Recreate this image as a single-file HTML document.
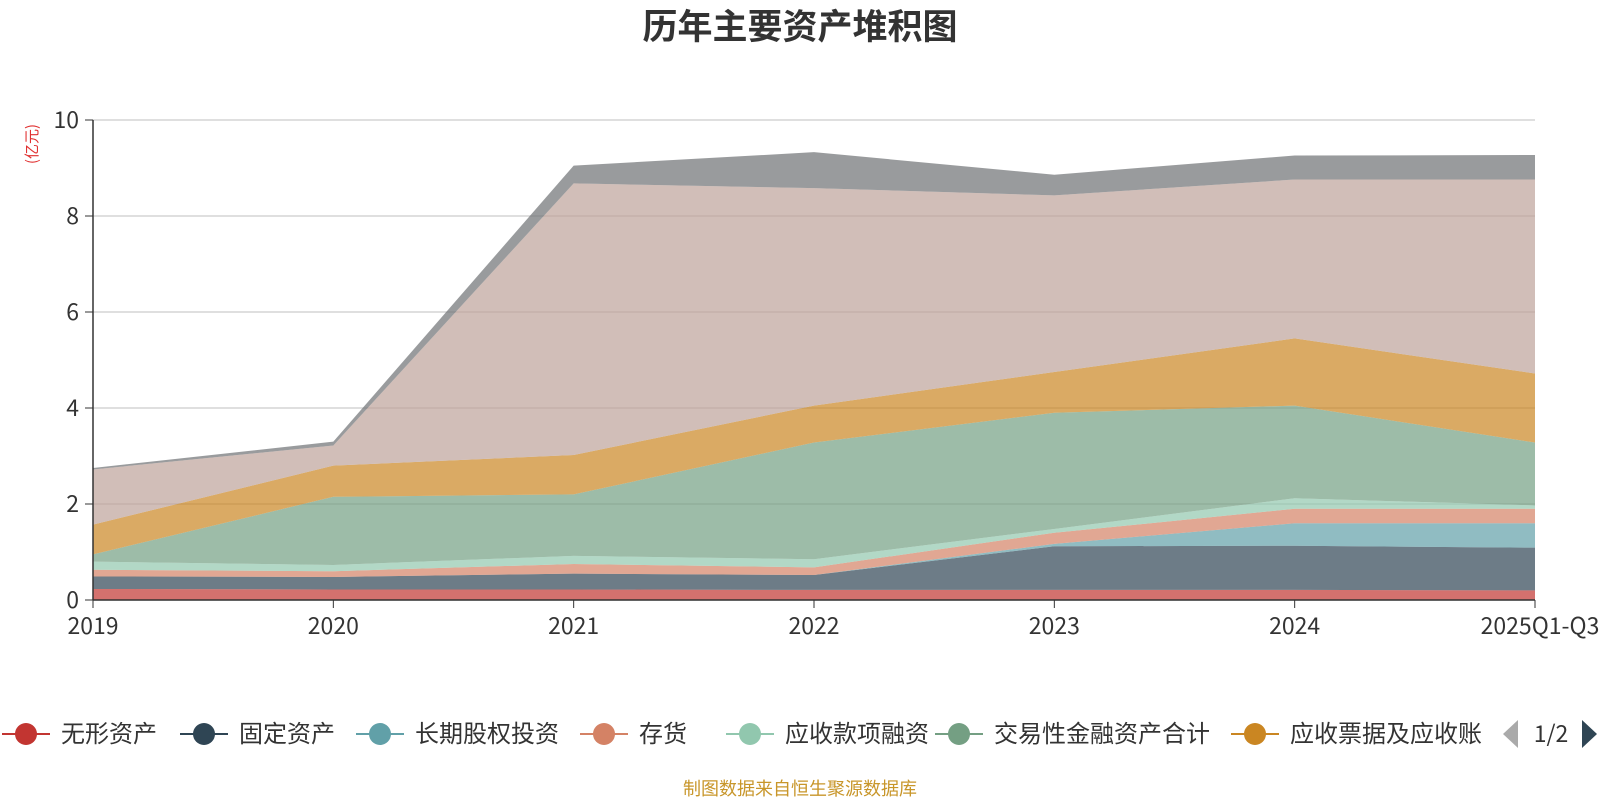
<!DOCTYPE html>
<html><head><meta charset="utf-8"><style>
body{margin:0;background:#fff;font-family:"Liberation Sans","Noto Sans CJK SC",sans-serif;}
#wrap{position:relative;width:1600px;height:800px;overflow:hidden}
text{font-family:"Noto Sans CJK SC","Liberation Sans",sans-serif;}
</style></head><body>
<div id="wrap">
<svg id="chart" width="1600" height="800" style="position:absolute;left:0;top:0"></svg>
</div>
<script>
const categories=["2019","2020","2021","2022","2023","2024","2025Q1-Q3"];
const seriesNames=["无形资产","固定资产","长期股权投资","存货","应收款项融资","交易性金融资产合计","应收票据及应收账","货币资金","其他"];
const s0=[0.23,0.22,0.22,0.21,0.21,0.21,0.2];
const s1=[0.26,0.26,0.33,0.31,0.91,0.92,0.89];
const s2=[0,0,0,0,0.05,0.47,0.51];
const s3=[0.14,0.12,0.2,0.16,0.23,0.3,0.3];
const s4=[0.17,0.13,0.17,0.17,0.08,0.22,0.07];
const s5=[0.15,1.42,1.28,2.43,2.42,1.93,1.31];
const s6=[0.62,0.65,0.82,0.77,0.85,1.4,1.44];
const s7=[1.15,0.42,5.66,4.53,3.68,3.31,4.04];
const s8=[0.03,0.08,0.37,0.75,0.43,0.5,0.51];
const yTicks=[0,2,4,6,8,10];
const series=[s0,s1,s2,s3,s4,s5,s6,s7,s8];
const colors=["#c23531","#2f4554","#61a0a8","#d48265","#91c7ae","#749f83","#ca8622","#bda29a","#6e7074"];
const svg=document.getElementById('chart');const NS="http://www.w3.org/2000/svg";
const X0=93,X1=1535,Y0=600,Y1=120;
const xs=i=>X0+(X1-X0)*i/(categories.length-1);
const ys=v=>Y0-(Y0-Y1)*v/10;
function mk(t,a,p){const e=document.createElementNS(NS,t);for(const k in a)e.setAttribute(k,a[k]);(p||svg).appendChild(e);return e;}
let t=mk('text',{x:800,y:39,'text-anchor':'middle','font-size':35,'font-weight':'bold',fill:'#333'});t.textContent="历年主要资产堆积图";

t=mk('text',{x:37,y:144,'text-anchor':'middle','font-size':15,fill:'#e03030',transform:'rotate(-90 37 144)'});t.textContent="(亿元)";

yTicks.forEach(v=>{const y=ys(v);
 const l=mk('line',{x1:X0,x2:X1,y1:y,y2:y,stroke:'#ccc','stroke-width':1.2});
 
 mk('line',{x1:X0-8,x2:X0,y1:y,y2:y,stroke:'#333'});
 const tx=mk('text',{x:X0-14,y:y+8,'text-anchor':'end','font-size':23,fill:'#333'});tx.textContent=v;
 });
let cum=categories.map(()=>0);
series.forEach((s,k)=>{const lo=cum.slice();cum=cum.map((c,i)=>c+s[i]);
 let d='';cum.forEach((c,i)=>d+=(i?'L':'M')+xs(i)+','+ys(c));
 for(let i=lo.length-1;i>=0;i--)d+='L'+xs(i)+','+ys(lo[i]);d+='Z';
 const p=mk('path',{d:d,fill:colors[k],'fill-opacity':0.7,stroke:'none'});
 });
mk('line',{x1:X0,x2:X0,y1:Y1,y2:Y0,stroke:'#333','stroke-width':1.5});
mk('line',{x1:X0,x2:X1,y1:Y0,y2:Y0,stroke:'#333','stroke-width':1.5});
categories.forEach((c,i)=>{const x=xs(i);mk('line',{x1:x,x2:x,y1:Y0,y2:Y0+8,stroke:'#333'});
 const tx=mk('text',{x:i==categories.length-1?x+5:x,y:Y0+34,'text-anchor':'middle','font-size':23,fill:'#333'});tx.textContent=c;
 });
const lc=[26,204,380,604,750,959,1255];
seriesNames.slice(0,7).forEach((n,k)=>{const x=lc[k];const g=mk('g',{});
 
 mk('line',{x1:x-24,x2:x+24,y1:734,y2:734,stroke:colors[k],'stroke-width':2},g);
 mk('circle',{cx:x,cy:734,r:11,fill:colors[k]},g);
 const tx=mk('text',{x:x+35,y:742,'font-size':24,fill:'#333'},g);tx.textContent=n;});
let a=mk('path',{d:'M1518,720 L1503,734 L1518,748 Z',fill:'#aaa'});
t=mk('text',{x:1551,y:742,'text-anchor':'middle','font-size':23,fill:'#333'});t.textContent="1/2";

a=mk('path',{d:'M1582,720 L1597,734 L1582,748 Z',fill:'#2f4554'});
t=mk('text',{x:800,y:795,'text-anchor':'middle','font-size':18,fill:'#c8962a'});t.textContent="制图数据来自恒生聚源数据库";

</script>
</body></html>
